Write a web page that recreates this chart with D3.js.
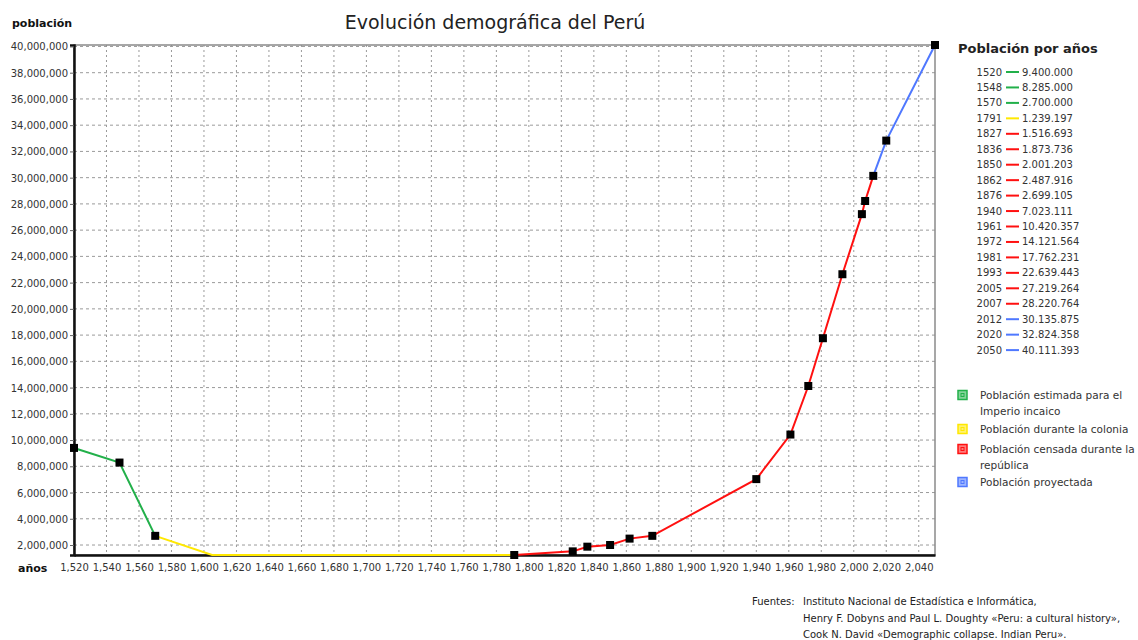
<!DOCTYPE html>
<html>
<head>
<meta charset="utf-8">
<script src="https://cdn.jsdelivr.net/npm/d3@7"></script>
<style>
  body { margin: 0; background: #fff; }
  svg text { font-family: "DejaVu Sans", Verdana, sans-serif; }
</style>
</head>
<body>
<div id="canvas"></div>
<script>
// datos del gráfico
const anios = [1520, 1548, 1570, 1791, 1827, 1836, 1850, 1862, 1876, 1940, 1961, 1972, 1981, 1993, 2005, 2007, 2012, 2020, 2050];
const poblacion = [9400000, 8285000, 2700000, 1239197, 1516693, 1873736, 2001203, 2487916, 2699105, 7023111,
  10420357, 14121564, 17762231, 22639443, 27219264, 28220764, 30135875, 32824358, 40111393];
const etiquetas = ["9.400.000", "8.285.000", "2.700.000", "1.239.197", "1.516.693", "1.873.736", "2.001.203", "2.487.916",
  "2.699.105", "7.023.111", "10.420.357", "14.121.564", "17.762.231", "22.639.443", "27.219.264", "28.220.764",
  "30.135.875", "32.824.358", "40.111.393"];

// tramos de cada periodo (años que une cada línea)
const tramoInca = [1520, 1548, 1570];
const tramoColonia = [1570, 1605, 1791];
const valorColonia1605 = 1239197; // la línea amarilla baja al fondo hacia 1605
const tramoRepublica = [1791, 1827, 1836, 1850, 1862, 1876, 1940, 1961, 1972, 1981, 1993, 2005, 2007, 2012];
const tramoProyectada = [2012, 2020, 2050];

const periodos = ["Población estimada para el|Imperio incaico", "Población durante la colonia",
  "Población censada durante la|república", "Población proyectada"];
const colores = ["#22b04a", "#ffe800", "#ff1010", "#4f78ff"];
const grupoAnio = [0, 0, 0, 1, 2, 2, 2, 2, 2, 2, 2, 2, 2, 2, 2, 2, 3, 3, 3];

const xTicks = d3.range(1520, 2041, 20);
const yTicks = d3.range(2000000, 40000001, 2000000);

const width = 1138;
const height = 640;
const margin = { top: 45, left: 74, bottom: 85, right: 203 };
const iwidth = width - margin.left - margin.right;
const iheight = height - margin.top - margin.bottom;

const svg = d3.select("#canvas").append("svg")
  .attr("width", width)
  .attr("height", height);

const x = d3.scaleLinear().domain([1520, 2050]).range([0, iwidth]);
const y = d3.scaleLinear().domain([1239197, 40111393]).range([iheight, 0]);

const g = svg.append("g").attr("transform", `translate(${margin.left},${margin.top})`);

// rejilla
g.append("g").selectAll("line").data(xTicks).join("line")
  .attr("x1", d => x(d)).attr("x2", d => x(d))
  .attr("y1", 0).attr("y2", iheight)
  .attr("stroke", "#9a9a9a").attr("stroke-dasharray", "2,3");
g.append("g").selectAll("line").data(yTicks).join("line")
  .attr("x1", 0).attr("x2", iwidth)
  .attr("y1", d => y(d)).attr("y2", d => y(d))
  .attr("stroke", "#9a9a9a").attr("stroke-dasharray", "3,3");

// marco
g.append("rect").attr("width", iwidth).attr("height", iheight)
  .attr("fill", "none").attr("stroke", "#8a8a8a").attr("stroke-width", 1.5);

// ejes
const xAxis = g.append("g").attr("transform", `translate(0,${iheight})`)
  .call(d3.axisBottom(x).tickValues(xTicks).tickFormat(d3.format(",")).tickSize(0).tickPadding(9));
const yAxis = g.append("g")
  .call(d3.axisLeft(y).tickValues(yTicks).tickFormat(d3.format(",")).tickSize(4).tickPadding(2));
[xAxis, yAxis].forEach(a => {
  a.select(".domain").attr("stroke", "#111").attr("stroke-width", 2.5);
  a.selectAll("text").attr("fill", "#333").style("font-size", "10px");
  a.selectAll(".tick line").attr("stroke", "#666");
});
yAxis.selectAll(".tick text").attr("dy", "0.35em");

// líneas
const valorDe = a => a === 1605 ? valorColonia1605 : poblacion[anios.indexOf(a)];
const line = d3.line().x(d => x(d)).y(d => y(valorDe(d)));
[tramoInca, tramoColonia, tramoRepublica, tramoProyectada].forEach((t, i) => {
  g.append("path").datum(t)
    .attr("d", line)
    .attr("fill", "none")
    .attr("stroke", colores[i])
    .attr("stroke-width", 2);
});

// marcadores
g.append("g").selectAll("rect").data(anios).join("rect")
  .attr("x", d => x(d) - 4)
  .attr("y", (d, i) => y(poblacion[i]) - 4)
  .attr("width", 8).attr("height", 8)
  .attr("fill", "#000");

// títulos
svg.append("text").attr("x", 495).attr("y", 29).attr("text-anchor", "middle")
  .style("font-size", "19px").attr("fill", "#222").text("Evolución demográfica del Perú");
svg.append("text").attr("x", 12).attr("y", 27)
  .style("font-size", "11px").style("font-weight", "bold").attr("fill", "#111").text("población");
svg.append("text").attr("x", 18).attr("y", 572)
  .style("font-size", "11px").style("font-weight", "bold").attr("fill", "#111").text("años");

// leyenda de años
const leg = svg.append("g");
leg.append("text").attr("x", 958).attr("y", 53)
  .style("font-size", "13px").style("font-weight", "bold").attr("fill", "#222").text("Población por años");
const fila = leg.selectAll("g.fila").data(anios).join("g")
  .attr("class", "fila")
  .attr("transform", (d, i) => `translate(0,${72 + i * 15.45})`);
fila.append("text").attr("x", 1002).attr("text-anchor", "end").attr("dy", "0.35em")
  .style("font-size", "10px").attr("fill", "#333").text(d => d);
fila.append("line").attr("x1", 1006).attr("x2", 1019)
  .attr("stroke", (d, i) => colores[grupoAnio[i]]).attr("stroke-width", 2);
fila.append("text").attr("x", 1022).attr("dy", "0.35em")
  .style("font-size", "10px").attr("fill", "#333").text((d, i) => etiquetas[i]);

// leyenda de periodos
const filasPeriodo = [395, 429, 449, 482];
periodos.forEach((p, i) => {
  const yy = filasPeriodo[i];
  leg.append("rect").attr("x", 958).attr("y", yy - 4.5).attr("width", 9).attr("height", 9)
    .attr("fill", d3.interpolateRgb(colores[i], "#fff")(0.45)).attr("stroke", colores[i]).attr("stroke-width", 1.5);
  leg.append("rect").attr("x", 961).attr("y", yy - 1.5).attr("width", 3).attr("height", 3)
    .attr("fill", "none").attr("stroke", colores[i]).attr("stroke-width", 1);
  p.split("|").forEach((t, j) => {
    leg.append("text").attr("x", 980).attr("y", yy + j * 16).attr("dy", "0.35em")
      .style("font-size", "10.5px").attr("fill", "#333").text(t);
  });
});

// fuentes
const fuentes = ["Instituto Nacional de Estadística e Informática,",
  "Henry F. Dobyns and Paul L. Doughty  «Peru: a cultural history»,",
  "Cook N. David «Demographic collapse. Indian Peru»."];
svg.append("text").attr("x", 752).attr("y", 605).style("font-size", "10px").attr("fill", "#222").text("Fuentes:");
fuentes.forEach((t, i) => {
  svg.append("text").attr("x", 803).attr("y", 605 + i * 16.5)
    .style("font-size", "10px").attr("fill", "#222").text(t);
});
</script>
</body>
</html>
